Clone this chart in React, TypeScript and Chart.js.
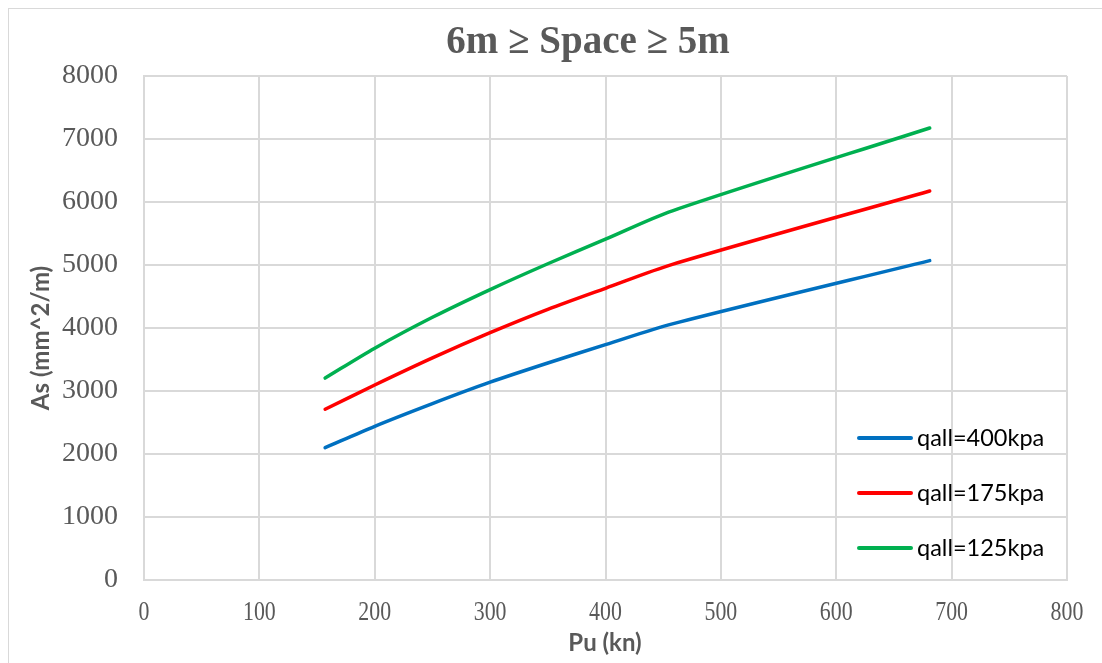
import React, { useEffect, useRef } from "react";
import { Chart, registerables } from "chart.js";

Chart.register(...registerables);

// ---- data ----
const puValues = [157, 200, 250, 300, 350, 400, 458, 681];
const asQ400 = [2100, 2440, 2800, 3140, 3445, 3735, 4065, 5070];
const asQ175 = [2710, 3095, 3525, 3925, 4295, 4630, 5010, 6175];
const asQ125 = [3205, 3680, 4170, 4610, 5020, 5410, 5860, 7175];
const seriesLabels = ["qall=400kpa", "qall=175kpa", "qall=125kpa"];
const seriesColors = ["#0070C0", "#FF0000", "#00B050"];
const chartTitle = "6m \u2265 Space \u2265 5m";
const xAxisTitle = "Pu (kn)";
const yAxisTitle = "As (mm^2/m)";
const xRange = [0, 800, 100];
const yRange = [0, 8000, 1000];

const W = 1102;
const H = 663;
const GRAY = "#595959";
const GRID = "#d9d9d9";

const decorPlugin = {
  id: "decor",
  beforeDraw(chart: any) {
    const ctx = chart.ctx;
    ctx.save();
    ctx.fillStyle = "#ffffff";
    ctx.fillRect(0, 0, W, H);
    ctx.strokeStyle = GRID;
    ctx.lineWidth = 1;
    ctx.strokeRect(8.5, 8.5, W + 10, H + 10);
    ctx.restore();
  },
  afterDraw(chart: any) {
    const ctx = chart.ctx;
    const xs = chart.scales.x;
    ctx.save();
    // title
    ctx.fillStyle = GRAY;
    ctx.font = 'bold 39px "Liberation Serif"';
    ctx.textAlign = "center";
    ctx.textBaseline = "alphabetic";
    ctx.fillText(chartTitle, 588, 53);

    // x tick labels (narrow serif)
    ctx.font = '28px "Liberation Serif"';
    ctx.fillStyle = GRAY;
    xs.ticks.forEach((t: any) => {
      const px = xs.getPixelForValue(t.value);
      ctx.save();
      ctx.translate(px, 620);
      ctx.scale(0.78, 1);
      ctx.fillText(String(t.value), 0, 0);
      ctx.restore();
    });

    // axis titles
    ctx.font = "bold 24px Lato";
    ctx.fillStyle = GRAY;
    ctx.textBaseline = "middle";
    ctx.fillText(xAxisTitle, 605, 643);
    ctx.save();
    ctx.translate(41, 338);
    ctx.rotate(-Math.PI / 2);
    ctx.fillText(yAxisTitle, 0, 0);
    ctx.restore();

    // legend inside plot
    const legendY = [438, 493, 548];
    chart.data.datasets.forEach((ds: any, i: number) => {
      const y = legendY[i];
      ctx.strokeStyle = ds.borderColor;
      ctx.lineWidth = 4;
      ctx.lineCap = "round";
      ctx.beginPath();
      ctx.moveTo(859, y);
      ctx.lineTo(911, y);
      ctx.stroke();
      ctx.fillStyle = "#000000";
      ctx.font = "23.5px Lato";
      ctx.textAlign = "left";
      ctx.textBaseline = "middle";
      ctx.fillText(ds.label, 917, y);
    });
    ctx.restore();
  },
};

export default function App() {
  const ref = useRef<HTMLCanvasElement | null>(null);
  useEffect(() => {
    document.body.style.margin = "0";
    if (!ref.current) return;
    const seriesValues = [asQ400, asQ175, asQ125];
    const chart = new Chart(ref.current, {
      type: "line",
      data: {
        datasets: seriesValues.map((vals, i) => ({
          label: seriesLabels[i],
          data: puValues.map((x, j) => ({ x, y: vals[j] })),
          borderColor: seriesColors[i],
          backgroundColor: seriesColors[i],
          borderWidth: 3.5,
          pointRadius: 0,
          fill: false,
          tension: 0.3,
          borderCapStyle: "round",
          borderJoinStyle: "round",
        })),
      },
      options: {
        responsive: false,
        animation: false,
        layout: { padding: { top: 76, right: 35, left: 0, bottom: 0 } },
        plugins: {
          legend: { display: false },
          title: { display: false },
          tooltip: { enabled: false },
        },
        scales: {
          x: {
            type: "linear",
            min: xRange[0],
            max: xRange[1],
            ticks: { stepSize: xRange[2], display: false },
            grid: { color: GRID, lineWidth: 2, drawTicks: false },
            border: { color: GRID, width: 2 },
            afterFit(s: any) {
              s.height = 83;
            },
          },
          y: {
            type: "linear",
            min: yRange[0],
            max: yRange[1],
            ticks: {
              stepSize: yRange[2],
              color: GRAY,
              padding: 26,
              font: { family: '"Liberation Serif"', size: 28 },
              callback: (v: any) => String(v),
            },
            grid: { color: GRID, lineWidth: 2, drawTicks: false },
            border: { color: GRID, width: 2 },
            afterFit(s: any) {
              s.width = 144;
            },
          },
        },
      },
      plugins: [decorPlugin],
    } as any);
    return () => chart.destroy();
  }, []);
  return (
    <div style={{ position: "absolute", left: 0, top: 0, width: W, height: H }}>
      <canvas ref={ref} width={W} height={H} />
    </div>
  );
}
